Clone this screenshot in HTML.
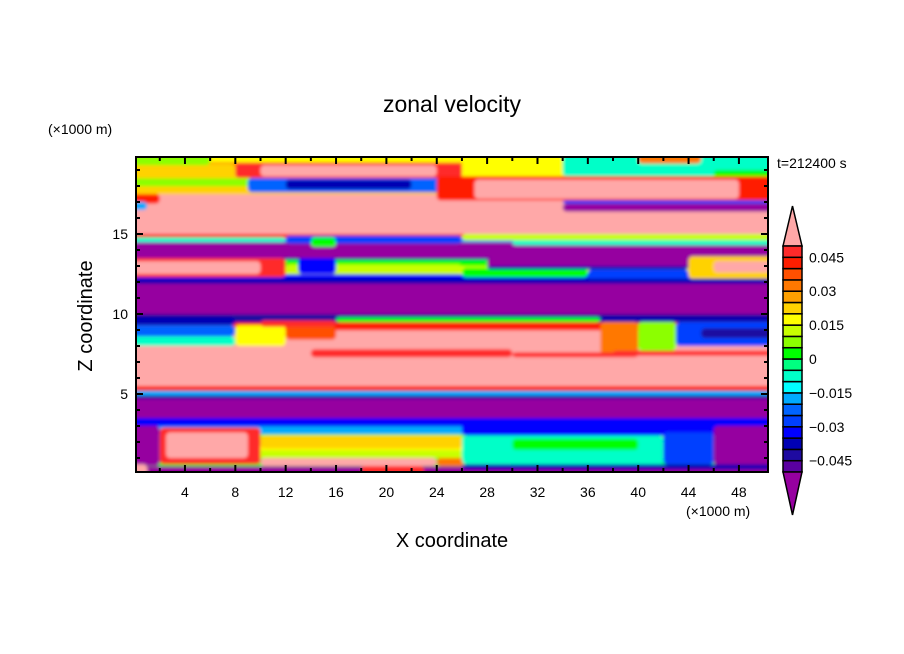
<!DOCTYPE html>
<html><head><meta charset="utf-8"><style>
body{margin:0;background:#fff;}
svg{display:block;font-family:"Liberation Sans",sans-serif;}
</style></head><body>
<svg id="chart" width="904" height="654" viewBox="0 0 904 654">
<defs><filter id="soft" x="-5%" y="-5%" width="110%" height="110%"><feGaussianBlur stdDeviation="1.6"/></filter></defs>
<rect width="904" height="654" fill="#fff"/>
<text x="452" y="112" text-anchor="middle" font-size="23">zonal velocity</text>
<text x="48" y="134" font-size="14">(×1000 m)</text>
<text x="777" y="168" font-size="14">t=212400 s</text>
<text x="686" y="516" font-size="14">(×1000 m)</text>
<text x="452" y="547" text-anchor="middle" font-size="20">X coordinate</text>
<text transform="translate(92,316) rotate(-90)" text-anchor="middle" font-size="20">Z coordinate</text>
<g id="field"></g>
<g id="axes"></g>
<g id="cbar"></g>
</svg>
<script>
// level colors from -0.05 to 0.05 step 0.005 (bottom to top)
const levelColors=["#5a00a0","#1e0aa0","#0000b4","#0000ff","#0040ff","#0064ff","#00aaff","#00ffff","#00ffc8","#00ff80","#00ff00","#8cff00","#c8ff00","#ffff00","#ffd200","#ffa000","#ff7800","#ff5000","#ff1e00","#ff2a2a"];
const underColor="#9600a0", overColor="#ffa8a8";
const cbarLabels=["0.045","0.03","0.015","0","-0.015","-0.03","-0.045"];
const cbarLabelValues=[0.045,0.03,0.015,0,-0.015,-0.03,-0.045];
const xTicks=[4,8,12,16,20,24,28,32,36,40,44,48];
const yTicks=[5,10,15];
// base vertical profile: 40 rows of 0.5 km, z=0..20
const profile=[-0.06,0.0,0.01,0.015,0.005,-0.02,-0.04,-0.06,-0.06,-0.06,
0.0,0.06,0.06,0.06,0.06,0.06,0.06,0.06,0.04,-0.045,
-0.06,-0.06,-0.06,-0.06,-0.035,0.015,0.0,-0.06,-0.06,-0.02,
0.06,0.06,0.06,0.06,0.06,0.02,0.005,0.02,0.03,0.015];
// patches: [x0,x1,z0,z1,value]
const patches=[
[8,26,18.5,19.4,0.045],[10,24,18.6,19.3,0.06],
[0,8,18.6,19.4,0.02],[0,6,19.3,19.8,0.005],[26,34,18.4,19.8,0.015],[34,50,18.6,19.8,-0.01],[40,45,19.4,19.8,0.03],[46,50,18.4,19,0.0],
[9,25,17.6,18.5,-0.025],[12,22,17.8,18.4,-0.04],
[24,50,17.1,18.6,0.04],[27,48,17.2,18.4,0.06],[34,50,16.4,16.9,-0.06],[34,50,16.9,17.1,-0.03],
[0,2,16.9,17.5,0.04],[0,1,16.5,17,-0.02],
[0,50,14.7,15,0.04],[0,12,14.5,14.8,-0.01],[12,26,14.4,14.9,-0.03],[14,16,14.2,14.8,0.0],[26,50,14.6,15,0.01],[30,50,14.3,14.6,-0.01],
[0,50,13.4,13.5,-0.04],[28,50,12.9,13.5,-0.06],
[0,12,12.3,13.5,0.045],[0,10,12.5,13.3,0.06],[12,26,12.5,13.1,0.01],[26,36,12.3,12.9,0.0],[36,44,12.1,12.8,-0.03],[28,44,12.8,13,-0.04],
[44,50,12.2,13.6,0.02],[46,50,12.6,13.3,0.06],[13,16,12.5,13.5,-0.035],
[0,50,11.9,12.2,-0.04],
[0,8,9.3,9.8,-0.04],[0,8,8.6,9.3,-0.025],[0,8,8.0,8.6,-0.01],[8,12,8.0,9.3,0.015],[10,16,9.2,9.6,0.045],[12,16,8.4,9.2,0.035],
[16,37,9.5,9.8,0.0],[37,50,9.6,9.8,-0.04],
[37,40,7.5,9.5,0.03],[40,43,7.7,9.5,0.005],[43,50,8.0,9.5,-0.03],[45,50,8.5,9.1,-0.045],[38,50,7.4,7.7,0.045],
[14,30,7.3,7.8,0.045],[30,40,7.3,7.6,0.045],
[0,50,5.2,5.5,0.04],[0,50,4.9,5.2,-0.02],[0,50,4.7,4.9,-0.045],
[0,50,3.0,3.5,-0.035],[26,50,2.4,3.2,-0.035],
[0,2,0.5,3,-0.06],[2,10,0.6,2.9,0.045],[2.5,9,1.0,2.6,0.06],
[10,24,0.5,1.0,0.06],[24,30,0.5,1.0,0.03],[10,26,1.6,2.4,0.02],
[26,42,0.6,2.4,-0.01],[30,40,1.5,2.2,0.0],[42,46,0.6,2.6,-0.03],[46,50,0.5,3,-0.06],
[0,1,0,0.6,0.06],[18,23,0,0.5,0.045],[26,50,0.3,0.6,-0.04]
];
const NS="http://www.w3.org/2000/svg";
const X0=136,X1=768,Y0=157,Y1=472;
const xs=v=>134.6+v*12.59;
const ys=z=>474-16*z;
function colorFor(v){
  if(v>=0.05) return overColor;
  if(v<-0.05) return underColor;
  let i=Math.floor((v+0.05)/0.005+1e-9);
  return levelColors[Math.min(19,Math.max(0,i))];
}
function mk(tag,attrs,parent){const e=document.createElementNS(NS,tag);for(const k in attrs)e.setAttribute(k,attrs[k]);parent.appendChild(e);return e;}
const field=document.getElementById('field');
const cp=mk('clipPath',{id:'pc'},field);mk('rect',{x:X0,y:Y0,width:X1-X0,height:Y1-Y0},cp);
const outer=mk('g',{'clip-path':'url(#pc)'},field);
const fg=mk('g',{filter:'url(#soft)'},outer);
profile.forEach((v,i)=>{
  let y=ys((i+1)*0.5),h=8.3;
  if(i===profile.length-1){y-=12;h+=12;}
  if(i===0){h+=12;}
  const r=mk('rect',{x:X0-12,y:y,width:X1-X0+24,height:h,fill:colorFor(v)},fg);
  
  
});
patches.forEach(p=>{
  const x0=p[0]<=0?X0-12:xs(p[0]);
  const x1=p[1]>=50?X1+12:xs(p[1]);
  let y0=ys(p[3]),y1=ys(p[2]);
  if(p[2]<=0)y1+=12;
  if(p[3]>=19.8)y0-=12;
  const r=mk('rect',{x:x0,y:y0,width:x1-x0,height:y1-y0,fill:colorFor(p[4]),rx:4},fg);
  
  
});
// axes
const ax=document.getElementById('axes');
mk('rect',{x:X0,y:Y0,width:X1-X0,height:Y1-Y0,fill:'none',stroke:'#000','stroke-width':2},ax);
for(let v=2;v<50;v+=2){const x=xs(v),L=v%4===0?7:4;
  mk('line',{x1:x,x2:x,y1:Y1,y2:Y1-L,stroke:'#000','stroke-width':2},ax);
  mk('line',{x1:x,x2:x,y1:Y0,y2:Y0+L,stroke:'#000','stroke-width':2},ax);}
xTicks.forEach(v=>{const t=mk('text',{x:xs(v),y:497,'text-anchor':'middle','font-size':14},ax);t.textContent=v;
  
  });
for(let z=1;z<20;z++){const y=ys(z),L=z%5===0?7:4;
  mk('line',{x1:X0,x2:X0+L,y1:y,y2:y,stroke:'#000','stroke-width':2},ax);
  mk('line',{x1:X1,x2:X1-L,y1:y,y2:y,stroke:'#000','stroke-width':2},ax);}
yTicks.forEach(z=>{const t=mk('text',{x:128,y:ys(z)+5,'text-anchor':'end','font-size':14},ax);t.textContent=z;
  
  });
// colorbar
const cb=document.getElementById('cbar');
const bx=783,bw=19,bt=246,bh=11.3;
mk('polygon',{points:`${bx},${bt} ${bx+bw/2},206 ${bx+bw},${bt}`,fill:overColor,stroke:'#000','stroke-width':1.5},cb);
levelColors.forEach((c,i)=>{const r=mk('rect',{x:bx,y:bt+(19-i)*bh,width:bw,height:bh,fill:c,stroke:'#000','stroke-width':1.5},cb);
  
  });
mk('polygon',{points:`${bx},${bt+20*bh} ${bx+bw/2},515 ${bx+bw},${bt+20*bh}`,fill:underColor,stroke:'#000','stroke-width':1.5},cb);
cbarLabels.forEach((s,i)=>{const v=cbarLabelValues[i];const y=bt+(20-(v+0.05)/0.005)*bh;
  const t=mk('text',{x:809,y:y+5,'font-size':14},cb);t.textContent=s.replace('-','−');
  
  });
</script>
</body></html>
